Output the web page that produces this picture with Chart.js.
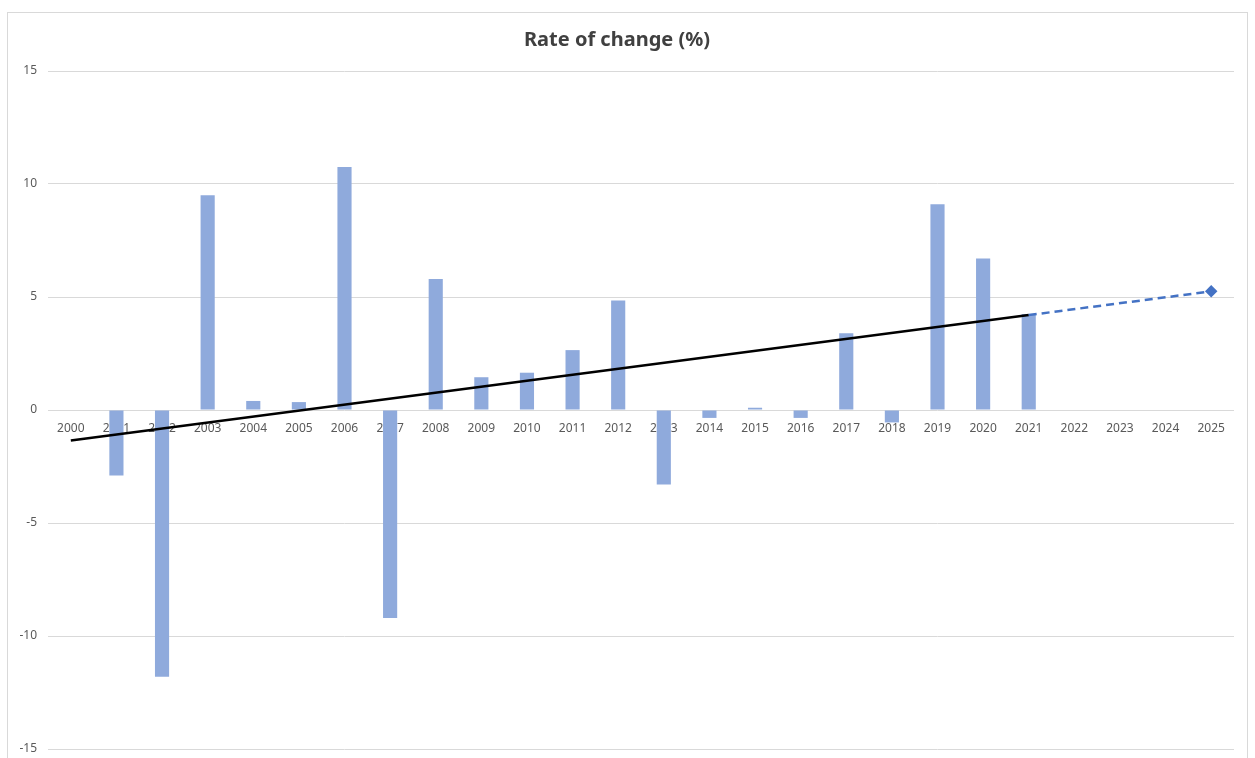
<!DOCTYPE html>
<html>
<head>
<meta charset="utf-8">
<script src="https://cdn.jsdelivr.net/npm/chart.js@4"></script>
<style>
  html, body { margin: 0; padding: 0; background: #fff; }
  #frame { position: absolute; left: 7px; top: 12px; width: 1239px; height: 760px; border: 1px solid #d9d9d9; }
  #wrap { position: absolute; left: 0; top: 0; width: 1255px; height: 758px; }
</style>
</head>
<body>
<div id="frame"></div>
<div id="wrap"><canvas id="chart"></canvas></div>
<script>
// années (catégories)
const years = ['2000','2001','2002','2003','2004','2005','2006','2007','2008','2009','2010','2011','2012',
  '2013','2014','2015','2016','2017','2018','2019','2020','2021','2022','2023','2024','2025'];

// taux de variation annuel (%)
const rateValues = [null, -2.9, -11.8, 9.5, 0.4, 0.35, 10.75, -9.2, 5.8, 1.45, 1.65, 2.65, 4.85,
  -3.3, -0.35, 0.1, -0.35, 3.4, -0.55, 9.1, 6.7, 4.25, null, null, null, null];

// tendance (points lus aux extrémités)
const trendValues = [-1.35, null, null, null, null, null, null, null, null, null, null, null, null,
  null, null, null, null, null, null, null, null, 4.2, null, null, null, null];

// prévision en pointillés
const forecastValues = [null, null, null, null, null, null, null, null, null, null, null, null, null,
  null, null, null, null, null, null, null, null, 4.2, null, null, null, 5.25];

const yTicks = [-15, -10, -5, 0, 5, 10, 15];

Chart.defaults.font.family = '"Noto Sans", "Open Sans", sans-serif';
Chart.defaults.color = '#595959';

const ctx = document.getElementById('chart').getContext('2d');
new Chart(ctx, {
  data: {
    labels: years,
    datasets: [
      {
        type: 'line',
        data: forecastValues,
        borderColor: '#4472c4',
        backgroundColor: '#4472c4',
        borderWidth: 2.5,
        borderDash: [8, 5],
        spanGaps: true,
        pointStyle: 'rectRot',
        pointRadius: forecastValues.map((v, i) => i === forecastValues.length - 1 ? 4.5 : 0),
        order: 0
      },
      {
        type: 'line',
        data: trendValues,
        borderColor: '#000000',
        borderWidth: 2.5,
        spanGaps: true,
        pointRadius: 0,
        order: 1
      },
      {
        type: 'bar',
        data: rateValues,
        backgroundColor: '#8faadc',
        categoryPercentage: 1,
        barPercentage: 0.31,
        order: 2
      }
    ]
  },
  options: {
    responsive: true,
    maintainAspectRatio: false,
    animation: false,
    layout: { padding: { left: 0, right: 21, top: 28, bottom: 9 } },
    plugins: {
      legend: { display: false },
      tooltip: { enabled: false },
      title: {
        display: true,
        text: 'Rate of change (%)',
        color: '#404040',
        font: { size: 20, weight: 'bold' },
        padding: { top: 0, bottom: 19 }
      }
    },
    scales: {
      x: {
        position: { y: 0 },
        grid: { display: false, drawTicks: false },
        border: { display: false },
        ticks: { font: { size: 12 }, padding: 11, maxRotation: 0, autoSkip: false },
        afterFit: s => { s.height = 0; s.paddingTop = 0; s.paddingBottom = 0; }
      },
      y: {
        min: -15,
        max: 15,
        afterBuildTicks: s => { s.ticks = yTicks.map(v => ({ value: v })); },
        afterFit: s => { s.width = 48; s.paddingTop = 0; s.paddingBottom = 0; },
        grid: { color: '#d9d9d9', lineWidth: 1, drawTicks: false },
        border: { display: false },
        ticks: { font: { size: 12 }, padding: 11 }
      }
    }
  }
});
</script>
</body>
</html>
